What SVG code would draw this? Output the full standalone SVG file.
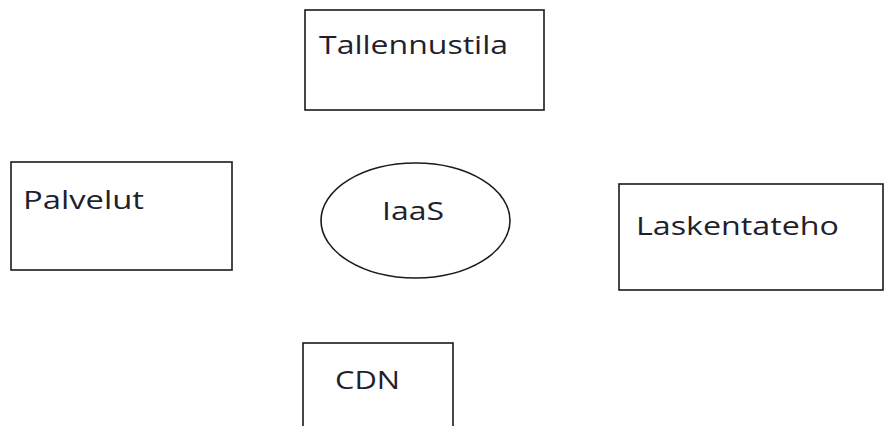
<svg xmlns="http://www.w3.org/2000/svg" width="885" height="426" viewBox="0 0 885 426">
<style>
.box{fill:#fff;stroke:#1a1a1a;stroke-width:1.6}
.lbl{font-family:"Open Sans","Noto Sans",sans-serif;font-size:25px;fill:#1f1f2e}
</style>
<rect width="885" height="426" fill="#fff"/>
<g id="connectors"></g>
<g id="tallennustila">
<rect class="box" x="305" y="10" width="239" height="100"/>
<text class="lbl" x="319" y="54" textLength="189" lengthAdjust="spacingAndGlyphs">Tallennustila</text>
</g>
<g id="palvelut">
<rect class="box" x="11" y="162" width="221" height="108"/>
<text class="lbl" x="23" y="209" textLength="121" lengthAdjust="spacingAndGlyphs">Palvelut</text>
</g>
<g id="iaas">
<ellipse class="box" cx="415.5" cy="220.5" rx="94.5" ry="57.5"/>
<text class="lbl" x="382" y="220" textLength="62" lengthAdjust="spacingAndGlyphs">IaaS</text>
</g>
<g id="laskentateho">
<rect class="box" x="619" y="184" width="264" height="106"/>
<text class="lbl" x="636" y="235" textLength="203" lengthAdjust="spacingAndGlyphs">Laskentateho</text>
</g>
<g id="cdn">
<rect class="box" x="303" y="343" width="150" height="100"/>
<text class="lbl" x="335" y="389" textLength="65" lengthAdjust="spacingAndGlyphs">CDN</text>
</g>
</svg>
